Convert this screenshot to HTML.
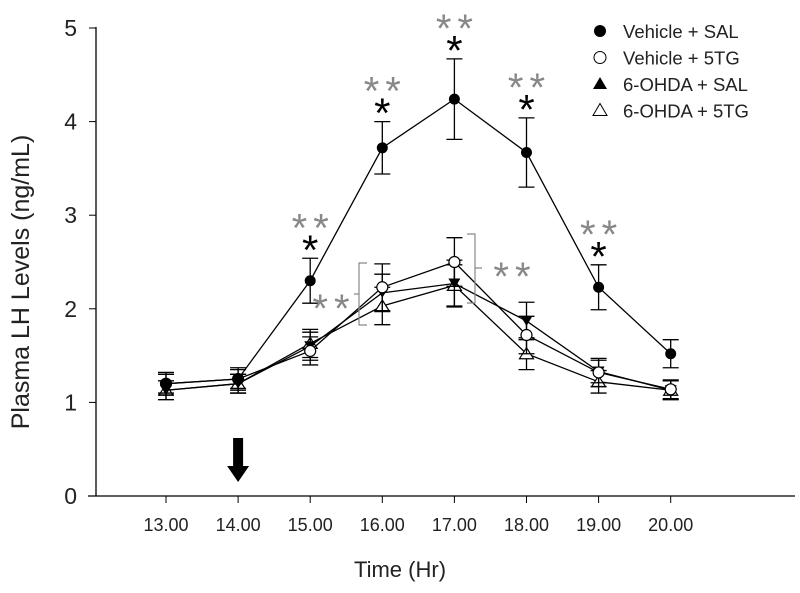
<!DOCTYPE html>
<html><head><meta charset="utf-8"><style>
body{margin:0;background:#fff;}
svg text{font-family:"Liberation Sans",sans-serif;}
</style></head><body>
<svg id="chart" width="800" height="588" xmlns="http://www.w3.org/2000/svg"></svg>
<script>
const categories=["13.00","14.00","15.00","16.00","17.00","18.00","19.00","20.00"];
const yTicks=[0,1,2,3,4,5];
const seriesNames=["Vehicle + SAL","Vehicle + 5TG","6-OHDA + SAL","6-OHDA + 5TG"];
const vehSal=[1.2,1.25,2.3,3.72,4.24,3.67,2.23,1.52];
const vehSalErr=[0.12,0.12,0.24,0.28,0.43,0.37,0.24,0.15];
const veh5tg=[1.2,1.25,1.55,2.23,2.5,1.72,1.32,1.14];
const veh5tgErr=[0.1,0.1,0.15,0.25,0.26,0.2,0.15,0.1];
const ohdaSal=[1.13,1.2,1.6,2.17,2.27,1.87,1.33,1.13];
const ohdaSalErr=[0.1,0.1,0.15,0.2,0.25,0.2,0.12,0.1];
const ohda5tg=[1.13,1.2,1.63,2.03,2.25,1.52,1.22,1.13];
const ohda5tgErr=[0.1,0.1,0.15,0.2,0.22,0.17,0.12,0.1];
const sigIdx=[2,3,4,5,6];

const svg=document.getElementById('chart');
const NS='http://www.w3.org/2000/svg';
const xs=i=>166+i*72.1;
const ys=v=>496-v*93.6;
function mk(tag,attrs,parent){const e=document.createElementNS(NS,tag);for(const k in attrs)e.setAttribute(k,attrs[k]);(parent||svg).appendChild(e);return e;}

let a=mk('line',{x1:96,y1:27,x2:96,y2:496,stroke:'#000','stroke-width':1.3});


a=mk('line',{x1:88,y1:496,x2:795,y2:496,stroke:'#000','stroke-width':1.3});


yTicks.forEach(t=>{
  mk('line',{x1:89,y1:ys(t),x2:96,y2:ys(t),stroke:'#000'});
  const tx=mk('text',{x:77,y:ys(t)+8,'font-size':23,'text-anchor':'end',fill:'#222'});
  tx.textContent=t;
  
  
});
categories.forEach((c,i)=>{
  mk('line',{x1:xs(i),y1:496,x2:xs(i),y2:503,stroke:'#000'});
  const tx=mk('text',{x:xs(i),y:531,'font-size':18,'text-anchor':'middle',fill:'#222'});
  tx.textContent=c;
  
  
});
let t=mk('text',{x:400,y:577,'font-size':22,'text-anchor':'middle',fill:'#222'});
t.textContent='Time (Hr)';


t=mk('text',{x:0,y:0,'font-size':25,'text-anchor':'middle',fill:'#222',transform:'translate(29,282) rotate(-90)'});
t.textContent='Plasma LH Levels (ng/mL)';



const ar=mk('path',{d:`M${xs(1)-5},438 h10 v28 h6 l-11,16 l-11,-16 h6 z`,fill:'#000'});



function marker(kind,x,y,g){
  if(kind==0)mk('circle',{cx:x,cy:y,r:5.5,fill:'#000'},g);
  else if(kind==1)mk('circle',{cx:x,cy:y,r:5.5,fill:'#fff',stroke:'#000','stroke-width':1.2},g);
  else if(kind==2)mk('path',{d:`M${x-6},${y-5} h12 l-6,10 z`,fill:'#000'},g);
  else mk('path',{d:`M${x},${y-6} l7,11 h-14 z`,fill:'#fff',stroke:'#000','stroke-width':1.2},g);
}
const data=[[vehSal,vehSalErr],[veh5tg,veh5tgErr],[ohdaSal,ohdaSalErr],[ohda5tg,ohda5tgErr]];
const snames=['series-vehicle-sal','series-vehicle-5tg','series-6ohda-sal','series-6ohda-5tg'];
[3,2,1,0].forEach(k=>{
  const [v,e]=data[k];
  const g=mk('g',{});
  
  
  mk('polyline',{points:v.map((d,i)=>xs(i)+','+ys(d)).join(' '),fill:'none',stroke:'#000','stroke-width':1.3},g);
  v.forEach((d,i)=>{
    const x=xs(i),y1=ys(d+e[i]),y2=ys(d-e[i]);
    mk('path',{d:`M${x},${y1}V${y2}M${x-8},${y1}h16M${x-8},${y2}h16`,stroke:'#000','stroke-width':1.3,fill:'none'},g);
  });
  v.forEach((d,i)=>marker(k,xs(i),ys(d),g));
});

sigIdx.forEach(i=>{
  const y=ys(vehSal[i]+vehSalErr[i]);
  const b=mk('text',{x:xs(i),y:y+6,'font-size':42,'text-anchor':'middle',fill:'#000'});
  b.textContent='*';
  
  
  const gr=mk('text',{x:xs(i)+3,y:y-17,'font-size':40,'text-anchor':'middle',fill:'#888','letter-spacing':'6'});
  gr.textContent='**';
  
  
});
mk('path',{d:'M367,263 h-8 v62 h8 M359,294 h-5',stroke:'#888',fill:'none','stroke-width':1.2});
t=mk('text',{x:334,y:322,'font-size':40,'text-anchor':'middle',fill:'#888','letter-spacing':'6'});
t.textContent='**';


mk('path',{d:'M467,234 h8 v69 h-8 M475,268 h7',stroke:'#888',fill:'none','stroke-width':1.2});
t=mk('text',{x:515,y:290,'font-size':40,'text-anchor':'middle',fill:'#888','letter-spacing':'6'});
t.textContent='**';



const lg=mk('g',{});


seriesNames.forEach((n,k)=>{
  const y=31+k*26.5;
  if(k==2)mk('path',{d:`M600,${y-7} l7,12 h-14 z`,fill:'#000'},lg);
  else if(k==3)mk('path',{d:`M600,${y-7} l7,12 h-14 z`,fill:'#fff',stroke:'#000','stroke-width':1},lg);
  else if(k==0)mk('circle',{cx:600,cy:y,r:6,fill:'#000'},lg);
  else mk('circle',{cx:600,cy:y,r:6,fill:'#fff',stroke:'#000','stroke-width':1},lg);
  const tx=mk('text',{x:623,y:y+7,'font-size':18.5,fill:'#222'},lg);
  tx.textContent=n;
  
  
});
</script>
</body></html>
